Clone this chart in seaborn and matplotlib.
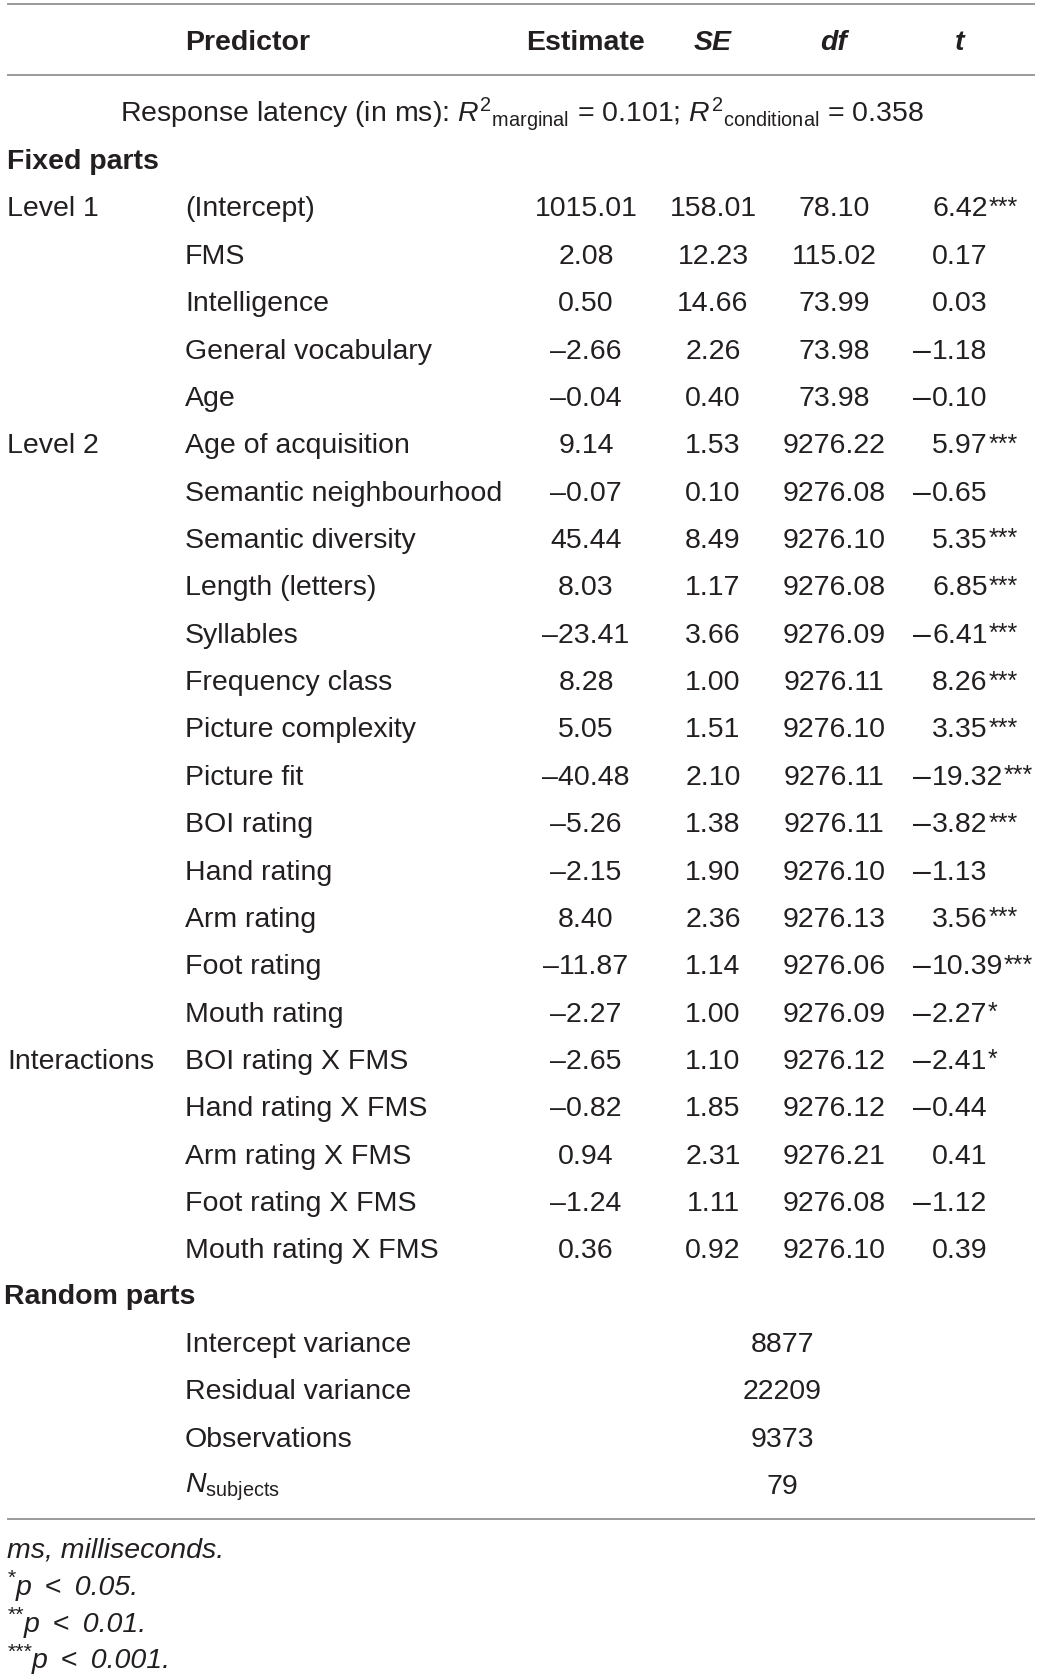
import matplotlib
matplotlib.use("Agg")
import matplotlib.pyplot as plt
import seaborn as sns

W, H = 1041, 1681
FONT = "Liberation Sans"
FS = 20.5
INK = "#231f20"
RULE = "#9a9a9a"

groups = ["Level 1", "", "", "", "", "Level 2", "", "", "", "", "", "", "", "",
          "", "", "", "", "Interactions", "", "", "", ""]
predictors = ["(Intercept)", "FMS", "Intelligence", "General vocabulary", "Age",
              "Age of acquisition", "Semantic neighbourhood", "Semantic diversity",
              "Length (letters)", "Syllables", "Frequency class", "Picture complexity",
              "Picture fit", "BOI rating", "Hand rating", "Arm rating", "Foot rating",
              "Mouth rating", "BOI rating X FMS", "Hand rating X FMS", "Arm rating X FMS",
              "Foot rating X FMS", "Mouth rating X FMS"]
estimates = [1015.01, 2.08, 0.50, -2.66, -0.04, 9.14, -0.07, 45.44, 8.03, -23.41, 8.28,
             5.05, -40.48, -5.26, -2.15, 8.40, -11.87, -2.27, -2.65, -0.82, 0.94, -1.24, 0.36]
ses = [158.01, 12.23, 14.66, 2.26, 0.40, 1.53, 0.10, 8.49, 1.17, 3.66, 1.00, 1.51, 2.10,
       1.38, 1.90, 2.36, 1.14, 1.00, 1.10, 1.85, 2.31, 1.11, 0.92]
dfs = [78.10, 115.02, 73.99, 73.98, 73.98, 9276.22, 9276.08, 9276.10, 9276.08, 9276.09,
       9276.11, 9276.10, 9276.11, 9276.11, 9276.10, 9276.13, 9276.06, 9276.09, 9276.12,
       9276.12, 9276.21, 9276.08, 9276.10]
tvals = [6.42, 0.17, 0.03, -1.18, -0.10, 5.97, -0.65, 5.35, 6.85, -6.41, 8.26, 3.35,
         -19.32, -3.82, -1.13, 3.56, -10.39, -2.27, -2.41, -0.44, 0.41, -1.12, 0.39]
stars = ["***", "", "", "", "", "***", "", "***", "***", "***", "***", "***", "***", "***",
         "", "***", "***", "*", "*", "", "", "", ""]

random_labels = ["Intercept variance", "Residual variance", "Observations",
                 r"$N_{\mathrm{subjects}}$"]
random_values = ["8877", "22209", "9373", "79"]

note_stars = ["", "*", "**", "***"]
notes = ["ms, milliseconds.", "p \u2009<\u2009 0.05.", "p \u2009<\u2009 0.01.",
         "p \u2009<\u2009 0.001."]


def fmt(v):
    return f"{v:.2f}".replace("-", "\u2013")


sns.set_theme(style="white")
plt.rcParams["font.family"] = [FONT, "DejaVu Sans"]
plt.rcParams["mathtext.fontset"] = "custom"
plt.rcParams["mathtext.rm"] = FONT
plt.rcParams["mathtext.it"] = FONT + ":italic"
plt.rcParams["mathtext.bf"] = FONT + ":bold"

fig = plt.figure(figsize=(W / 100, H / 100), dpi=100)
ax = fig.add_axes([0, 0, 1, 1])
ax.set_xlim(0, W)
ax.set_ylim(H, 0)
ax.set_axis_off()

kw = dict(fontsize=FS, color=INK, va="center")
SFS = FS * 0.88

# rules
for y in [5, 76, 1520]:
    ax.plot([7, 1035], [y, y], color=RULE, lw=1.4, solid_capstyle="butt")

# header
hy = 43
ax.text(185, hy, "Predictor", ha="left", fontweight="bold", **kw)
ax.text(586, hy, "Estimate", ha="center", fontweight="bold", **kw)
ax.text(713, hy, "SE", ha="center", fontweight="bold", style="italic", **kw)
ax.text(834, hy, "df", ha="center", fontweight="bold", style="italic", **kw)
ax.text(960, hy, "t", ha="center", fontweight="bold", style="italic", **kw)

ax.text(522, 114,
        r"Response latency (in ms): $R^{2}{}_{\mathrm{marginal}}$ = 0.101; "
        r"$R^{2}{}_{\mathrm{conditional}}$ = 0.358",
        ha="center", **kw)

ax.text(7, 162, "Fixed parts", ha="left", fontweight="bold", **kw)

y0, dy = 209.5, 47.36
for i, pred in enumerate(predictors):
    y = y0 + i * dy
    if groups[i]:
        ax.text(7, y, groups[i], ha="left", **kw)
    ax.text(185, y, pred, ha="left", **kw)
    ax.text(586, y, fmt(estimates[i]), ha="center", **kw)
    ax.text(713, y, fmt(ses[i]), ha="center", **kw)
    ax.text(834, y, fmt(dfs[i]), ha="center", **kw)
    num = ax.text(932, y, f"{abs(tvals[i]):.2f}", ha="left", **kw)
    if tvals[i] < 0:
        ax.annotate("\u2013", xy=(0, 0.5), xycoords=num, xytext=(-1, 0),
                    textcoords="offset points", ha="right", va="center",
                    fontsize=FS * 1.12, color=INK)
    if stars[i]:
        ax.annotate(stars[i], xy=(1, 1), xycoords=num, xytext=(0.5, 0.5),
                    textcoords="offset points", ha="left", va="top",
                    fontsize=SFS, color=INK)

ax.text(4, 1297, "Random parts", ha="left", fontweight="bold", **kw)
for i, (lab, val) in enumerate(zip(random_labels, random_values)):
    y = 1345 + i * 47.3
    ax.text(185, y, lab, ha="left", **kw)
    ax.text(782, y, val, ha="center", **kw)

for i, (st, note) in enumerate(zip(note_stars, notes)):
    y = 1551 + i * 36.8
    if st:
        s = ax.text(7, y - 9, st, ha="left", va="center", style="italic",
                    fontsize=FS * 0.75, color=INK)
        ax.annotate(note, xy=(1, 0.5), xycoords=s, xytext=(0, -9 * 0.72),
                    textcoords="offset points", ha="left", va="center",
                    style="italic", fontsize=FS, color=INK)
    else:
        ax.text(7, y, note, ha="left", style="italic", **kw)

fig.savefig("out.png", dpi=100, facecolor="white")
